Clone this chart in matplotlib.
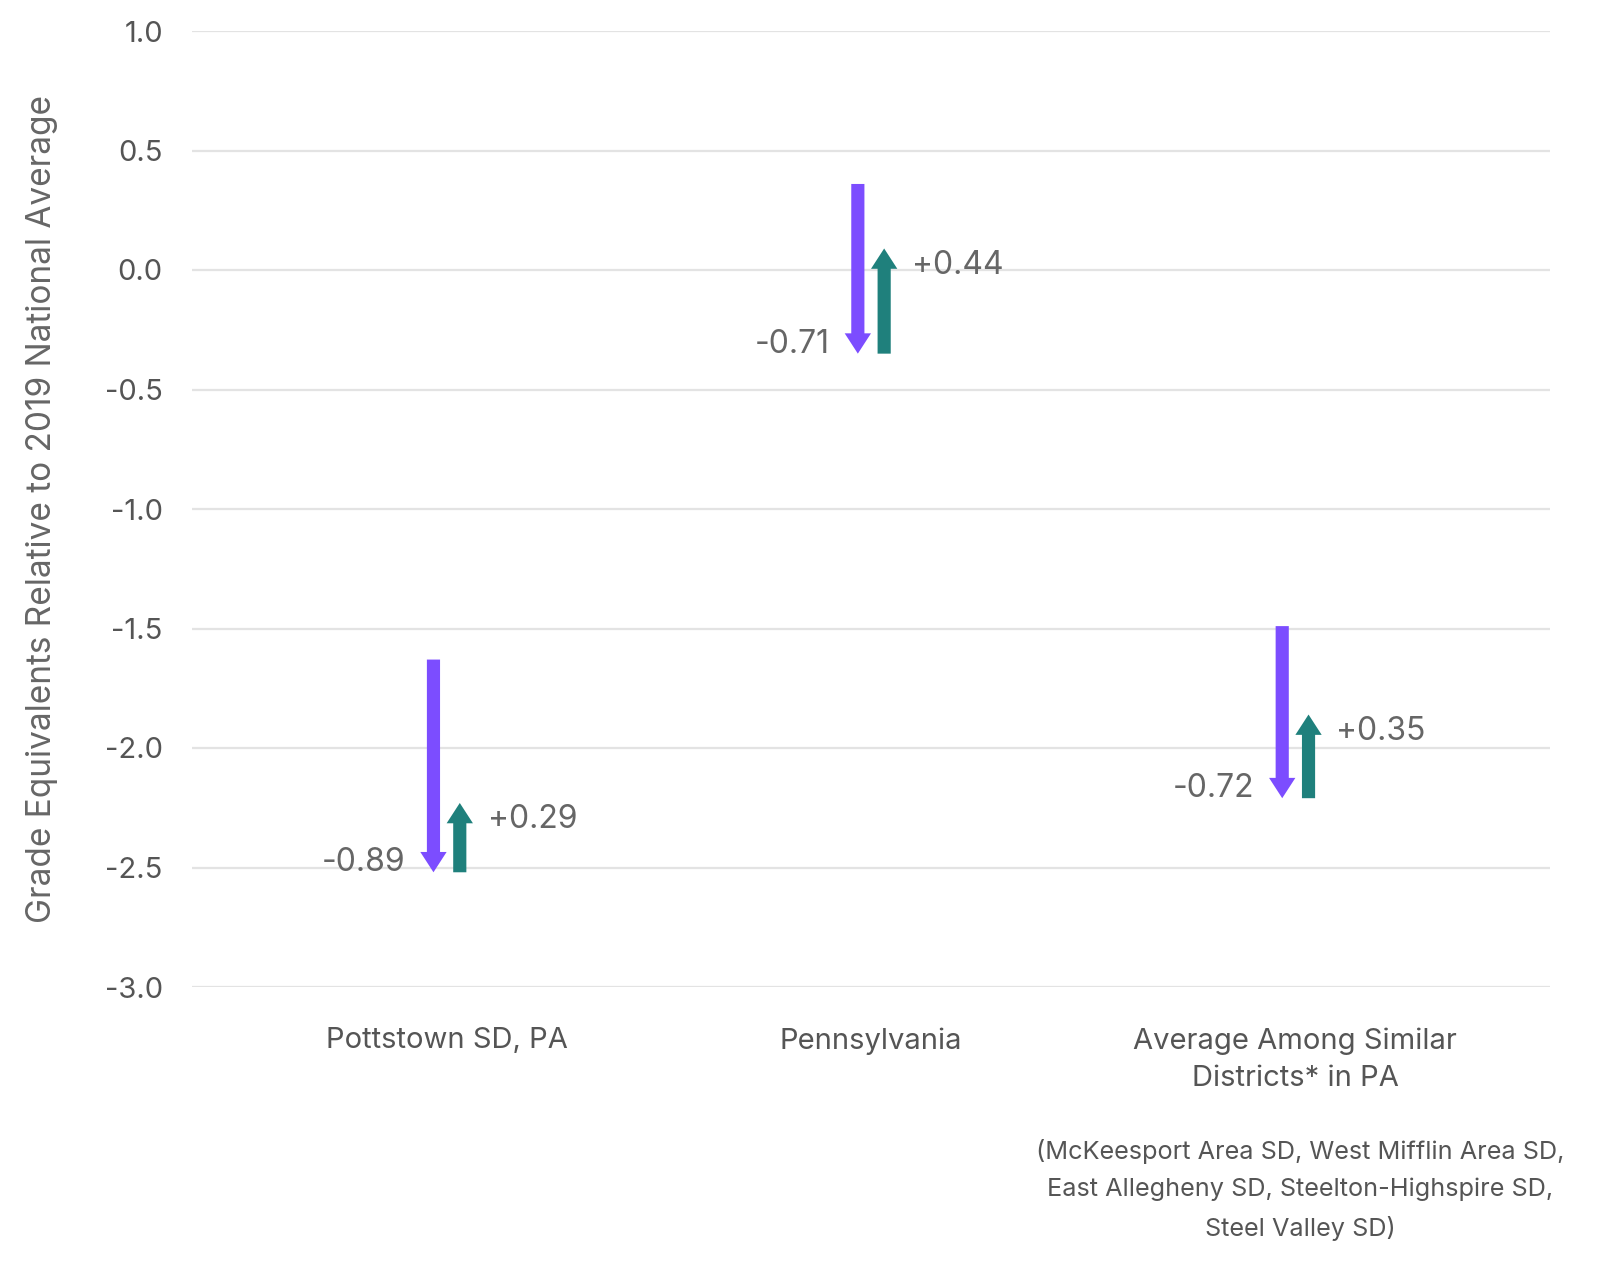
import numpy as np
import matplotlib
matplotlib.use('Agg')
import matplotlib.pyplot as plt

plt.rcParams['font.family'] = ['Inter', 'DejaVu Sans']

# --- data ---
categories = ['Pottstown SD, PA', 'Pennsylvania', 'Average Among Similar\nDistricts* in PA']
start_vals = [-1.63, 0.36, -1.49]
declines = [-0.89, -0.71, -0.72]
recoveries = [0.29, 0.44, 0.35]
y_ticks = [1.0, 0.5, 0.0, -0.5, -1.0, -1.5, -2.0, -2.5, -3.0]
footnote = ('(McKeesport Area SD, West Mifflin Area SD,\n'
            'East Allegheny SD, Steelton-Highspire SD,\n'
            'Steel Valley SD)')

PURPLE = '#7c4dff'
TEAL = '#1f807c'
GRAY_TXT = '#666666'

fig = plt.figure(figsize=(15.97, 12.7), dpi=100)
ax = fig.add_axes([192 / 1597, 1 - 987 / 1270, (1550 - 192) / 1597, (987 - 31) / 1270])

ax.set_xlim(-0.6, 2.6)
ax.set_ylim(-3.0, 1.0)

# gridlines
for t in y_ticks:
    ax.axhline(t, color='#e3e3e3', linewidth=1.6, zorder=0)

dx = 0.031
shaft_w = 0.031
head_w = 0.062
head_l = 0.085

for i, (s, d, r) in enumerate(zip(start_vals, declines, recoveries)):
    low = s + d
    high = low + r
    ax.arrow(i - dx, s, 0, d, width=shaft_w, head_width=head_w, head_length=head_l,
             length_includes_head=True, color=PURPLE, linewidth=0, zorder=3)
    ax.arrow(i + dx, low, 0, r, width=shaft_w, head_width=head_w, head_length=head_l,
             length_includes_head=True, color=TEAL, linewidth=0, zorder=3)
    ax.annotate(f'{d:.2f}', xy=(i - dx, low + 0.04), xytext=(-20, 0),
                textcoords='offset points', ha='right', va='center',
                fontsize=23, color=GRAY_TXT)
    ax.annotate(f'+{r:.2f}', xy=(i + dx, high - 0.07), xytext=(20, 0),
                textcoords='offset points', ha='left', va='center',
                fontsize=23, color=GRAY_TXT)

ax.set_yticks(y_ticks)
ax.set_yticklabels([f'{t:.1f}' for t in y_ticks])
ax.set_xticks(range(len(categories)))
ax.set_xticklabels(categories, linespacing=1.48)
ax.tick_params(axis='y', length=0, pad=21, labelsize=21, labelcolor='#555555')
ax.tick_params(axis='x', length=0, pad=29, labelsize=21, labelcolor='#555555')
for sp in ax.spines.values():
    sp.set_visible(False)

ax.set_ylabel('Grade Equivalents Relative to 2019 National Average',
              fontsize=24, color=GRAY_TXT)
ax.yaxis.set_label_coords(-0.099, 0.5)

fig.text(1300 / 1597, 1 - 1190 / 1270, footnote, ha='center', va='center',
         fontsize=18.2, color='#555555', linespacing=1.72)

fig.savefig('out.png', dpi=100)
